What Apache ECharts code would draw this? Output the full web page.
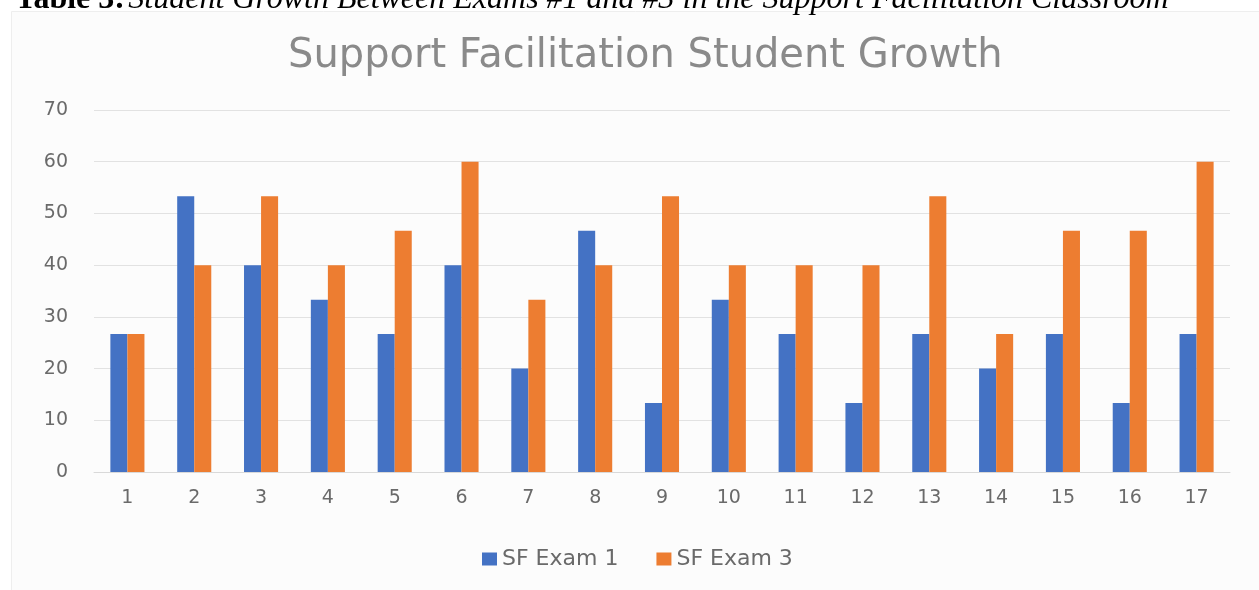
<!DOCTYPE html>
<html>
<head>
<meta charset="utf-8">
<script src="https://cdn.jsdelivr.net/npm/echarts@6/dist/echarts.min.js"></script>
<style>
html,body{margin:0;padding:0;background:#fff;}
#chart{width:1259px;height:590px;}
</style>
</head>
<body>
<div id="chart"></div>
<script>
const categories = ['1','2','3','4','5','6','7','8','9','10','11','12','13','14','15','16','17'];
const exam1 = [26.67, 53.33, 40, 33.33, 26.67, 40, 20, 46.67, 13.33, 33.33, 26.67, 13.33, 26.67, 20, 26.67, 13.33, 26.67];
const exam3 = [26.67, 40, 53.33, 40, 46.67, 60, 33.33, 40, 53.33, 40, 40, 40, 53.33, 26.67, 46.67, 46.67, 60];
const seriesNames = ['SF Exam 1', 'SF Exam 3'];
const chartTitle = 'Support Facilitation Student Growth';
const captionBold = 'Table 3:';
const captionItalic = 'Student Growth Between Exams #1 and #3 in the Support Facilitation Classroom';

const chart = echarts.init(document.getElementById('chart'));
chart.setOption({
  animation: false,
  backgroundColor: '#ffffff',
  graphic: [
    {
      type: 'rect', left: 11, top: 11, z: -10,
      shape: { width: 1248, height: 579 },
      style: { fill: '#fcfcfc', stroke: '#eeeeee', lineWidth: 1 }
    },
    {
      type: 'text', left: 15, top: -16,
      style: {
        text: '{b|' + captionBold + '} {i|' + captionItalic + '}',
        rich: {
          b: { fontFamily: 'Liberation Serif', fontWeight: 'bold', fontSize: 32, fill: '#000' },
          i: { fontFamily: 'Liberation Serif', fontStyle: 'italic', fontSize: 32, fill: '#000' }
        }
      }
    }
  ],
  title: {
    text: chartTitle,
    left: 283,
    top: 32,
    textStyle: { fontFamily: 'DejaVu Sans', fontWeight: 'normal', fontSize: 40, color: '#8a8a8a' }
  },
  color: ['#4472C4', '#ED7D31'],
  legend: {
    data: seriesNames,
    top: 543,
    left: 477,
    itemWidth: 15, itemHeight: 13, itemGap: 38,
    icon: 'rect',
    textStyle: { fontFamily: 'DejaVu Sans', fontSize: 22, color: '#6a6a6a' }
  },
  grid: { left: 94, right: 29, top: 110, bottom: 118 },
  xAxis: {
    type: 'category',
    data: categories,
    axisTick: { show: false },
    axisLine: { lineStyle: { color: '#d9d9d9' } },
    axisLabel: { fontFamily: 'DejaVu Sans', fontSize: 19, color: '#6a6a6a', margin: 17 }
  },
  yAxis: {
    type: 'value',
    min: 0, max: 70, interval: 10,
    axisLine: { show: false },
    axisTick: { show: false },
    splitLine: { lineStyle: { color: '#e2e2e2' } },
    axisLabel: { fontFamily: 'DejaVu Sans', fontSize: 19, color: '#6a6a6a', margin: 26 }
  },
  series: [
    { name: seriesNames[0], type: 'bar', data: exam1, barGap: '0%', barCategoryGap: '49%' },
    { name: seriesNames[1], type: 'bar', data: exam3, barGap: '0%', barCategoryGap: '49%' }
  ]
});
</script>
</body>
</html>
